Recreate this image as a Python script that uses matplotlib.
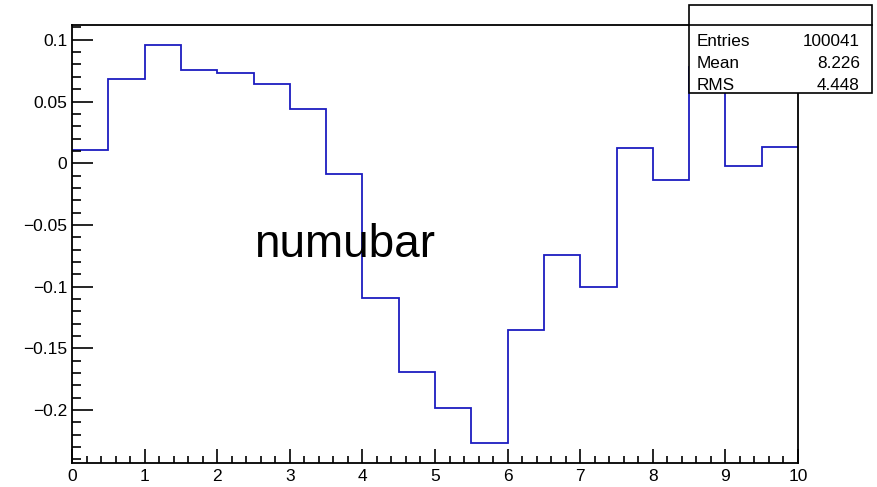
import matplotlib
matplotlib.use("Agg")
import matplotlib.pyplot as plt
from matplotlib.ticker import MultipleLocator, FuncFormatter
from matplotlib.patches import Rectangle
from matplotlib.lines import Line2D
import numpy as np

# Histogram contents: 20 bins of width 0.5 over [0, 10]
bin_edges = np.linspace(0, 10, 21)
bin_values = [0.0108, 0.0686, 0.0961, 0.0756, 0.0729, 0.0640, 0.0437, -0.0089,
              -0.1090, -0.1690, -0.1980, -0.2268, -0.1350, -0.0740, -0.1005,
              0.0121, -0.0138, 0.0780, -0.0022, 0.0132]

hist_label = "numubar"
stat_names = ["Entries", "Mean", "RMS"]
stat_values = ["100041", "8.226", "4.448"]

plt.rcParams['font.family'] = ['Liberation Sans', 'DejaVu Sans']

W, H = 878, 487
fig = plt.figure(figsize=(W / 100, H / 100), dpi=100)
ax = fig.add_axes([72 / W, 1 - 463 / H, (798 - 72) / W, (463 - 24.7) / H])

ax.stairs(bin_values, bin_edges, baseline=None, color='#1c1cc0', linewidth=1.3)

# ROOT-like y-range with 5% margins
vmin, vmax = min(bin_values), max(bin_values)
span = vmax - vmin
ax.set_xlim(0, 10)
ax.set_ylim(vmin - 0.05 * span, vmax + 0.05 * span)

ax.xaxis.set_major_locator(MultipleLocator(1))
ax.xaxis.set_minor_locator(MultipleLocator(0.2))
ax.yaxis.set_major_locator(MultipleLocator(0.05))
ax.yaxis.set_minor_locator(MultipleLocator(0.01))

def fmt(v, pos):
    s = "{:g}".format(round(v, 6))
    if s == "-0":
        s = "0"
    return s.replace("-", "\u2212")

ax.xaxis.set_major_formatter(FuncFormatter(fmt))
ax.yaxis.set_major_formatter(FuncFormatter(fmt))

ax.tick_params(axis='both', which='both', direction='in', top=False, right=False,
               labelsize=12.5, colors='black', width=1.2)
ax.tick_params(axis='x', which='major', length=10, pad=4)
ax.tick_params(axis='x', which='minor', length=5)
ax.tick_params(axis='y', which='major', length=15, pad=3.5)
ax.tick_params(axis='y', which='minor', length=6.5)

for sp in ax.spines.values():
    sp.set_linewidth(1.3)
    sp.set_color('black')

ax.text(2.51, -0.0761, hist_label, fontsize=33, ha='left', va='baseline',
        color='black')

# Statistics box in the top-right corner
bx0, bx1, by0, by1, byh = 689, 872, 5, 93, 25
fig.add_artist(Rectangle((bx0 / W, 1 - by1 / H), (bx1 - bx0) / W, (by1 - by0) / H,
                         transform=fig.transFigure, facecolor='white',
                         edgecolor='black', linewidth=1.2, zorder=10))
fig.add_artist(Line2D([bx0 / W, bx1 / W], [1 - byh / H, 1 - byh / H],
                      transform=fig.transFigure, color='black', linewidth=1.2,
                      zorder=11))
row_baselines = [46, 68, 90]
for name, val, yb in zip(stat_names, stat_values, row_baselines):
    fig.text(697 / W, 1 - yb / H, name, fontsize=12.3, ha='left', va='baseline',
             zorder=12)
    fig.text(860 / W, 1 - yb / H, val, fontsize=12.3, ha='right', va='baseline',
             zorder=12)

fig.savefig("out.png", dpi=100)
